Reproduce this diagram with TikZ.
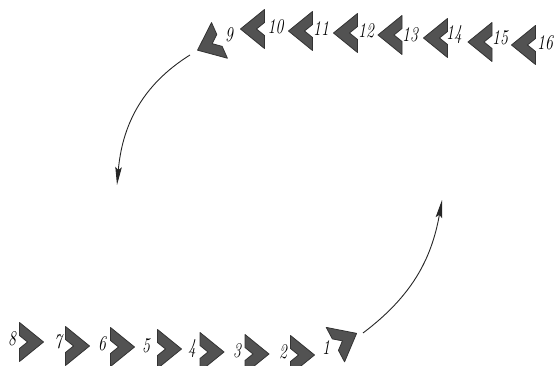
\documentclass[tikz,border=0pt]{standalone}
\usepackage{tikz}
\usetikzlibrary{arrows.meta}
\definecolor{chevgray}{RGB}{82,82,82}
\newcommand{\numtxt}[1]{\scalebox{0.75}[1]{#1}}

\tikzset{
  chevron/.pic={
    \filldraw[draw=black!80,fill=chevgray,line width=0.8pt,line join=round]
      (-12,19.5) -- (12,0) -- (-12,-19.5) -- (-12,-6.5) -- (-4,0) -- (-12,6.5) -- cycle;
  }
}

\begin{document}
\begin{tikzpicture}[
  x=1pt,y=1pt,
  lbl/.style={font=\fontsize{21}{21}\selectfont\itshape,inner sep=0pt},
  arr/.style={-{Stealth[length=18pt,width=6.5pt,inset=3pt]},line width=0.9pt,black!85}
]
\clip (0,0) rectangle (555,366);

% lower row, heading right
\pic at (31.5,24) {chevron};
\pic at (77.5,20) {chevron};
\pic at (122.5,19) {chevron};
\pic at (169.5,17) {chevron};
\pic at (212,14) {chevron};
\pic at (257,12) {chevron};
\pic at (302.5,11) {chevron};
\pic[rotate=28] at (346,27) {chevron};
\node[lbl] (n8) at (12,27) {\numtxt{8}};
\node[lbl] (n7) at (58,24) {\numtxt{7}};
\node[lbl] (n6) at (102,22) {\numtxt{6}};
\node[lbl] (n5) at (146,20) {\numtxt{5}};
\node[lbl] (n4) at (192,17) {\numtxt{4}};
\node[lbl] (n3) at (237,15) {\numtxt{3}};
\node[lbl] (n2) at (283,14) {\numtxt{2}};
\node[lbl] (n1) at (326,18) {\numtxt{1}};

% upper row, heading left
\pic[rotate=204] at (208.5,320.7) {chevron};
\pic[rotate=180] at (252.5,337) {chevron};
\pic[rotate=180] at (300.5,335) {chevron};
\pic[rotate=180] at (345.5,333) {chevron};
\pic[rotate=180] at (390,331) {chevron};
\pic[rotate=180] at (435.5,328) {chevron};
\pic[rotate=180] at (480,324) {chevron};
\pic[rotate=180] at (523.5,321) {chevron};
\node[lbl] (n9) at (229,331) {\numtxt{9}};
\node[lbl] (n10) at (275.5,339) {\numtxt{10}};
\node[lbl] (n11) at (321,337) {\numtxt{11}};
\node[lbl] (n12) at (366,335) {\numtxt{12}};
\node[lbl] (n13) at (410,331) {\numtxt{13}};
\node[lbl] (n14) at (454,331) {\numtxt{14}};
\node[lbl] (n15) at (500,328) {\numtxt{15}};
\node[lbl] (n16) at (545,323) {\numtxt{16}};

% turning arcs
\coordinate (topstart) at (190,311);
\coordinate (topend) at (117,181);
\coordinate (botstart) at (363,33);
\coordinate (botend) at (442,166);
\draw[arr] (topstart) to[out=212,in=85] (topend);
\draw[arr] (botstart) to[out=37,in=260] (botend);
\end{tikzpicture}
\end{document}
